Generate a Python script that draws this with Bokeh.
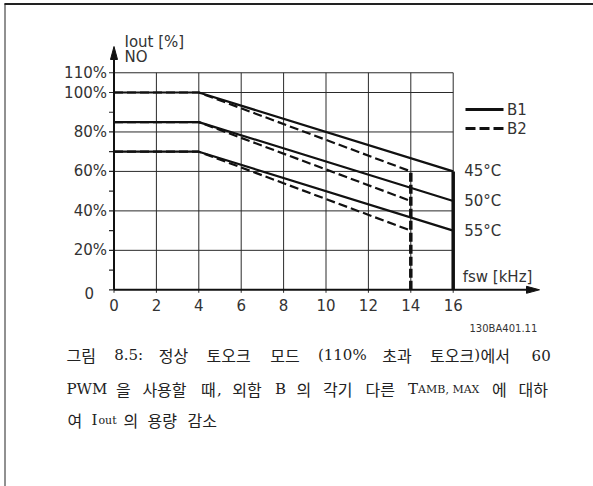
from bokeh.plotting import figure
from bokeh.models import Range1d
from bokeh.core.properties import value
from bokeh.embed import file_html
from bokeh.resources import INLINE

# ---------------- data ----------------
freq_ticks = [0, 2, 4, 6, 8, 10, 12, 14, 16]
pct_ticks = [20, 40, 60, 80, 100, 110]
pct_labels = ["20%", "40%", "60%", "80%", "100%", "110%"]
pct_minor = [10, 30, 50, 70, 90]
temps = ["45°C", "50°C", "55°C"]

b1_freq = [0, 4, 16]          # enclosure B1 (solid)
b2_freq = [0, 4, 14]          # enclosure B2 (dashed)
iout_45 = [100, 100, 60]
iout_50 = [85, 85, 45]
iout_55 = [70, 70, 30]
series = [iout_45, iout_50, iout_55]
b1_cutoff = 16
b2_cutoff = 14

# ---------------- layout ----------------
W, H = 593, 486
X0, SX = 113.5, 21.2      # page px of x=0, px per kHz
Y0, SY = 289.3, 1.973     # page px of y=0 (from top), px per %

def dx(px):  # page x -> data x
    return (px - X0) / SX

def dy(py):  # page y -> data y
    return (Y0 - py) / SY

INK = "#111111"
TXT = "#333333"
SANS = value("DejaVu Sans")

p = figure(width=W, height=H,
           x_range=Range1d(dx(0), dx(W)), y_range=Range1d(dy(H), dy(0)),
           x_axis_type=None, y_axis_type=None, toolbar_location=None,
           output_backend="svg", min_border=0)
p.outline_line_color = None
p.background_fill_color = "white"
p.border_fill_color = "white"

# page frame (left and top rules)
p.segment(x0=[dx(4.5)], y0=[dy(3)], x1=[dx(4.5)], y1=[dy(H)], line_color="#222222", line_width=1)
p.segment(x0=[dx(4)], y0=[dy(3.5)], x1=[dx(W)], y1=[dy(3.5)], line_color="#222222", line_width=2)

xmax = freq_ticks[-1]
ymax = pct_ticks[-1]

# grid
p.segment(x0=freq_ticks[1:], y0=[0] * (len(freq_ticks) - 1), x1=freq_ticks[1:],
          y1=[ymax] * (len(freq_ticks) - 1), line_color="#2a2a2a", line_width=1)
p.segment(x0=[0] * len(pct_ticks), y0=pct_ticks, x1=[xmax] * len(pct_ticks), y1=pct_ticks,
          line_color="#2a2a2a", line_width=1)

# y ticks (major + minor)
all_y = [0] + pct_ticks + pct_minor
p.segment(x0=[-5 / SX] * len(all_y), y0=all_y, x1=[0] * len(all_y), y1=all_y,
          line_color="#2a2a2a", line_width=1.2)
# x ticks
p.segment(x0=freq_ticks, y0=[-3 / SY] * len(freq_ticks), x1=freq_ticks, y1=[0] * len(freq_ticks),
          line_color="#2a2a2a", line_width=1)

# axes with arrow heads
x_tip, x_base = dx(539), dx(526)
y_tip, y_base = dy(46), dy(59)
p.segment(x0=[0, 0], y0=[0, 0], x1=[x_base, 0], y1=[0, y_base], line_color=INK, line_width=2)
p.patch([x_tip, x_base, x_base], [0, 3.5 / SY, -3.5 / SY], fill_color=INK, line_color=INK)
p.patch([0, -3.5 / SX, 3.5 / SX], [y_tip, y_base, y_base], fill_color=INK, line_color=INK)

# curves
for s in series:
    p.line(b1_freq, s, line_color=INK, line_width=2.2)
    p.line(b2_freq, s, line_color=INK, line_width=2.2, line_dash="9 4")

top_cut = max(s[-1] for s in series)
p.segment(x0=[b1_cutoff], y0=[0], x1=[b1_cutoff], y1=[top_cut], line_color=INK, line_width=3.5)
p.segment(x0=[b2_cutoff], y0=[0], x1=[b2_cutoff], y1=[top_cut], line_color=INK, line_width=3.5,
          line_dash="9 3")

# tick labels
p.text(x=[0] * len(pct_ticks), y=pct_ticks, text=pct_labels, x_offset=-7, text_align="right",
       text_baseline="middle", text_font=SANS, text_font_size="15px", text_color=TXT)
p.text(x=[0], y=[0], text=["0"], x_offset=-20, y_offset=3, text_align="right",
       text_baseline="middle", text_font=SANS, text_font_size="15px", text_color=TXT)
p.text(x=freq_ticks, y=[0] * len(freq_ticks), text=[str(f) for f in freq_ticks], y_offset=15,
       text_align="center", text_baseline="middle", text_font=SANS, text_font_size="15px",
       text_color=TXT)

# axis titles
p.text(x=[0, 0], y=[dy(41), dy(56.5)], text=["Iout [%]", "NO"], x_offset=10.5,
       text_align="left", text_baseline="middle", text_font=SANS, text_font_size="15px",
       text_color=TXT)
p.text(x=[xmax], y=[0], text=["fsw [kHz]"], x_offset=9.5, y_offset=-12.5, text_align="left",
       text_baseline="middle", text_font=SANS, text_font_size="15px", text_color=TXT)

# temperature labels
p.text(x=[b1_cutoff] * 3, y=[s[-1] for s in series], text=temps, x_offset=11,
       text_align="left", text_baseline="middle", text_font=SANS, text_font_size="15px",
       text_color=TXT)

# legend
p.segment(x0=[dx(465)], y0=[dy(109)], x1=[dx(503)], y1=[dy(109)], line_color=INK, line_width=3)
p.segment(x0=[dx(465)], y0=[dy(128)], x1=[dx(503)], y1=[dy(128)], line_color=INK, line_width=3,
          line_dash="10 4")
p.text(x=[dx(506.5)] * 2, y=[dy(109), dy(128)], text=["B1", "B2"], text_align="left",
       text_baseline="middle", text_font=SANS, text_font_size="15px", text_color=TXT)

# figure code
p.text(x=[dx(469)], y=[dy(328)], text=["130BA401.11"], text_align="left", text_baseline="middle",
       text_font=SANS, text_font_size="10px", text_color=TXT)

# caption (Korean, justified)
L1, L2, L3 = 353, 387, 418
cap_kr = [
    ("그림", 66.0, L1), ("정상", 158.3, L1), ("토오크", 206.0, L1), ("모드", 269.7, L1),
    ("초과", 381.8, L1), ("토오크", 429.5, L1), ("에서", 480.0, L1),
    ("을", 115.4, L2), ("사용할", 141.9, L2), ("때", 200.5, L2), ("외함", 231.8, L2),
    ("의", 295.9, L2), ("각기", 322.5, L2), ("다른", 365.0, L2), ("에", 491.4, L2), ("대하", 518.0, L2),
    ("여", 67, L3), ("의", 123, L3), ("용량", 147, L3), ("감소", 187, L3),
]
cap_lat = [
    ("8.5:", 113.7, L1), ("(110%", 317.4, L1), (")", 473.8, L1), ("60", 531.1, L1),
    ("PWM", 66.0, L2), (",", 216.5, L2), ("B", 274.4, L2), ("T", 407.6, L2),
    ("I", 91, L3),
]
cap_sub = [("AMB, MAX", 417.6, L2), ("out", 98, L3)]
CAPCOL = "#222222"
for group, font, size in [(cap_kr, "Noto Sans CJK KR", "16px"),
                          (cap_lat, "DejaVu Serif", "15px"),
                          (cap_sub, "DejaVu Serif", "11px")]:
    p.text(x=[dx(c[1]) for c in group], y=[dy(c[2] + 1.5) for c in group],
           text=[c[0] for c in group], text_align="left", text_baseline="alphabetic",
           text_font=value(font), text_font_size=size, text_color=CAPCOL)

open("out.html", "w").write(file_html(p, INLINE))
